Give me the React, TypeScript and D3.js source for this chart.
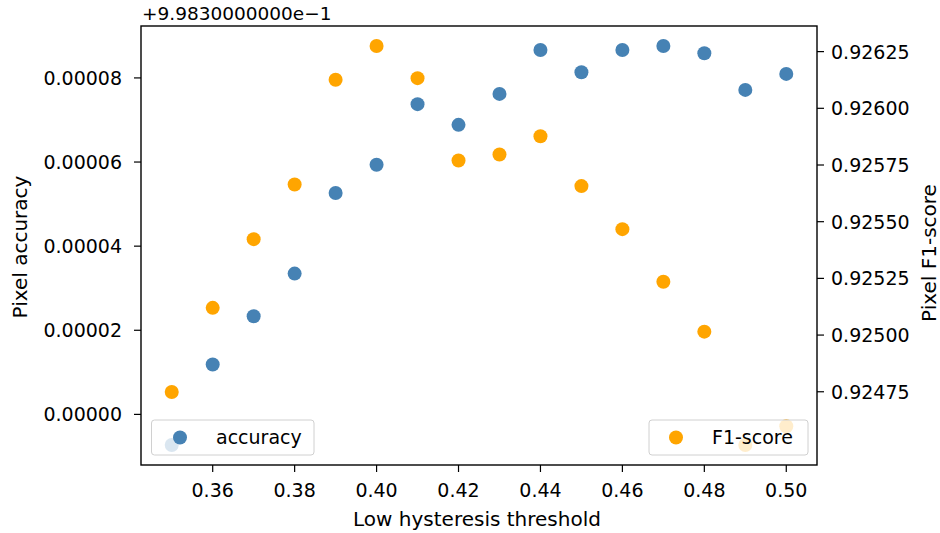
import React from "react";
import * as d3 from "d3";

const thresholds = [0.35, 0.36, 0.37, 0.38, 0.39, 0.40, 0.41, 0.42, 0.43, 0.44, 0.45, 0.46, 0.47, 0.48, 0.49, 0.50];
const accuracy = [0.99829271, 0.99831187, 0.99832334, 0.99833347, 0.99835263, 0.99835935, 0.99837376, 0.99836884, 0.9983762, 0.99838665, 0.99838135, 0.99838665, 0.9983876, 0.99838587, 0.99837715, 0.99838095];
const f1 = [0.924749, 0.92512, 0.925423, 0.925664, 0.926126, 0.926275, 0.926133, 0.92577, 0.925796, 0.925877, 0.925657, 0.925467, 0.925235, 0.925015, 0.924515, 0.924598];
const accOffset = 0.9983;
const xTicks = [0.36, 0.38, 0.40, 0.42, 0.44, 0.46, 0.48, 0.50];
const leftTicks = [0, 0.00002, 0.00004, 0.00006, 0.00008];
const rightTicks = [0.92475, 0.925, 0.92525, 0.9255, 0.92575, 0.926, 0.92625];
const offsetLabel = "+9.9830000000e\u22121";

const W = 940, H = 533;
const L = 141, R = 817, T = 26, B = 465;
const FONT = "DejaVu Sans, sans-serif";
const FS = 19;
const LFS = 20;
const BLUE = "#4682b4";
const ORANGE = "#ffa500";

function padded(vals: number[]): [number, number] {
  const [a, b] = d3.extent(vals) as [number, number];
  const m = (b - a) * 0.05;
  return [a - m, b + m];
}

export default function App() {
  const accOff = accuracy.map((v) => v - accOffset);
  const x = d3.scaleLinear().domain(padded(thresholds)).range([L, R]);
  const yL = d3.scaleLinear().domain(padded(accOff)).range([B, T]);
  const yR = d3.scaleLinear().domain(padded(f1)).range([B, T]);
  const r = 7;

  return (
    <svg width={W} height={H} style={{ position: "absolute", left: 0, top: 0, background: "#fff" }} fontFamily={FONT}>
      <rect x={0} y={0} width={W} height={H} fill="#fff" />
      {/* accuracy points */}
      {thresholds.map((t, i) => (
        <circle key={"a" + i} cx={x(t)} cy={yL(accOff[i])} r={r} fill={BLUE} />
      ))}
      {/* accuracy legend */}
      <g>
        <rect x={151.5} y={420} width={162.5} height={35} rx={3} fill="#fff" fillOpacity={0.8} stroke="#d0d0d0" strokeWidth={1} />
        <circle cx={180} cy={437.5} r={r} fill={BLUE} />
        <text x={216} y={444} fontSize={FS} fill="#000">accuracy</text>
      </g>
      {/* f1 points */}
      {thresholds.map((t, i) => (
        <circle key={"f" + i} cx={x(t)} cy={yR(f1[i])} r={r} fill={ORANGE} />
      ))}
      {/* f1 legend */}
      <g>
        <rect x={649} y={420} width={159} height={35} rx={3} fill="#fff" fillOpacity={0.8} stroke="#d0d0d0" strokeWidth={1} />
        <circle cx={676} cy={437.5} r={r} fill={ORANGE} />
        <text x={712} y={444} fontSize={FS} fill="#000">F1-score</text>
      </g>
      {/* frame */}
      <rect x={L} y={T} width={R - L} height={B - T} fill="none" stroke="#000" strokeWidth={1.4} />
      {/* x ticks */}
      {xTicks.map((t) => (
        <g key={"x" + t}>
          <line x1={x(t)} x2={x(t)} y1={B} y2={B + 7} stroke="#000" strokeWidth={1.2} />
          <text x={x(t)} y={497} fontSize={FS} textAnchor="middle" fill="#000">{t.toFixed(2)}</text>
        </g>
      ))}
      {/* left ticks */}
      {leftTicks.map((t) => (
        <g key={"l" + t}>
          <line x1={L - 7} x2={L} y1={yL(t)} y2={yL(t)} stroke="#000" strokeWidth={1.2} />
          <text x={L - 19} y={yL(t) + 7} fontSize={FS} textAnchor="end" fill="#000">{t.toFixed(5)}</text>
        </g>
      ))}
      {/* right ticks */}
      {rightTicks.map((t) => (
        <g key={"r" + t}>
          <line x1={R} x2={R + 7} y1={yR(t)} y2={yR(t)} stroke="#000" strokeWidth={1.2} />
          <text x={831} y={yR(t) + 7} fontSize={FS} textAnchor="start" fill="#000">{t.toFixed(5)}</text>
        </g>
      ))}
      {/* offset text */}
      <text x={142} y={20} fontSize={18.5} fill="#000">{offsetLabel}</text>
      {/* axis labels */}
      <text x={477} y={526} fontSize={LFS} textAnchor="middle" fill="#000">Low hysteresis threshold</text>
      <text transform={`translate(27,247) rotate(-90)`} fontSize={LFS} textAnchor="middle" fill="#000">Pixel accuracy</text>
      <text transform={`translate(936,253) rotate(-90)`} fontSize={LFS} textAnchor="middle" fill="#000">Pixel F1-score</text>
    </svg>
  );
}
